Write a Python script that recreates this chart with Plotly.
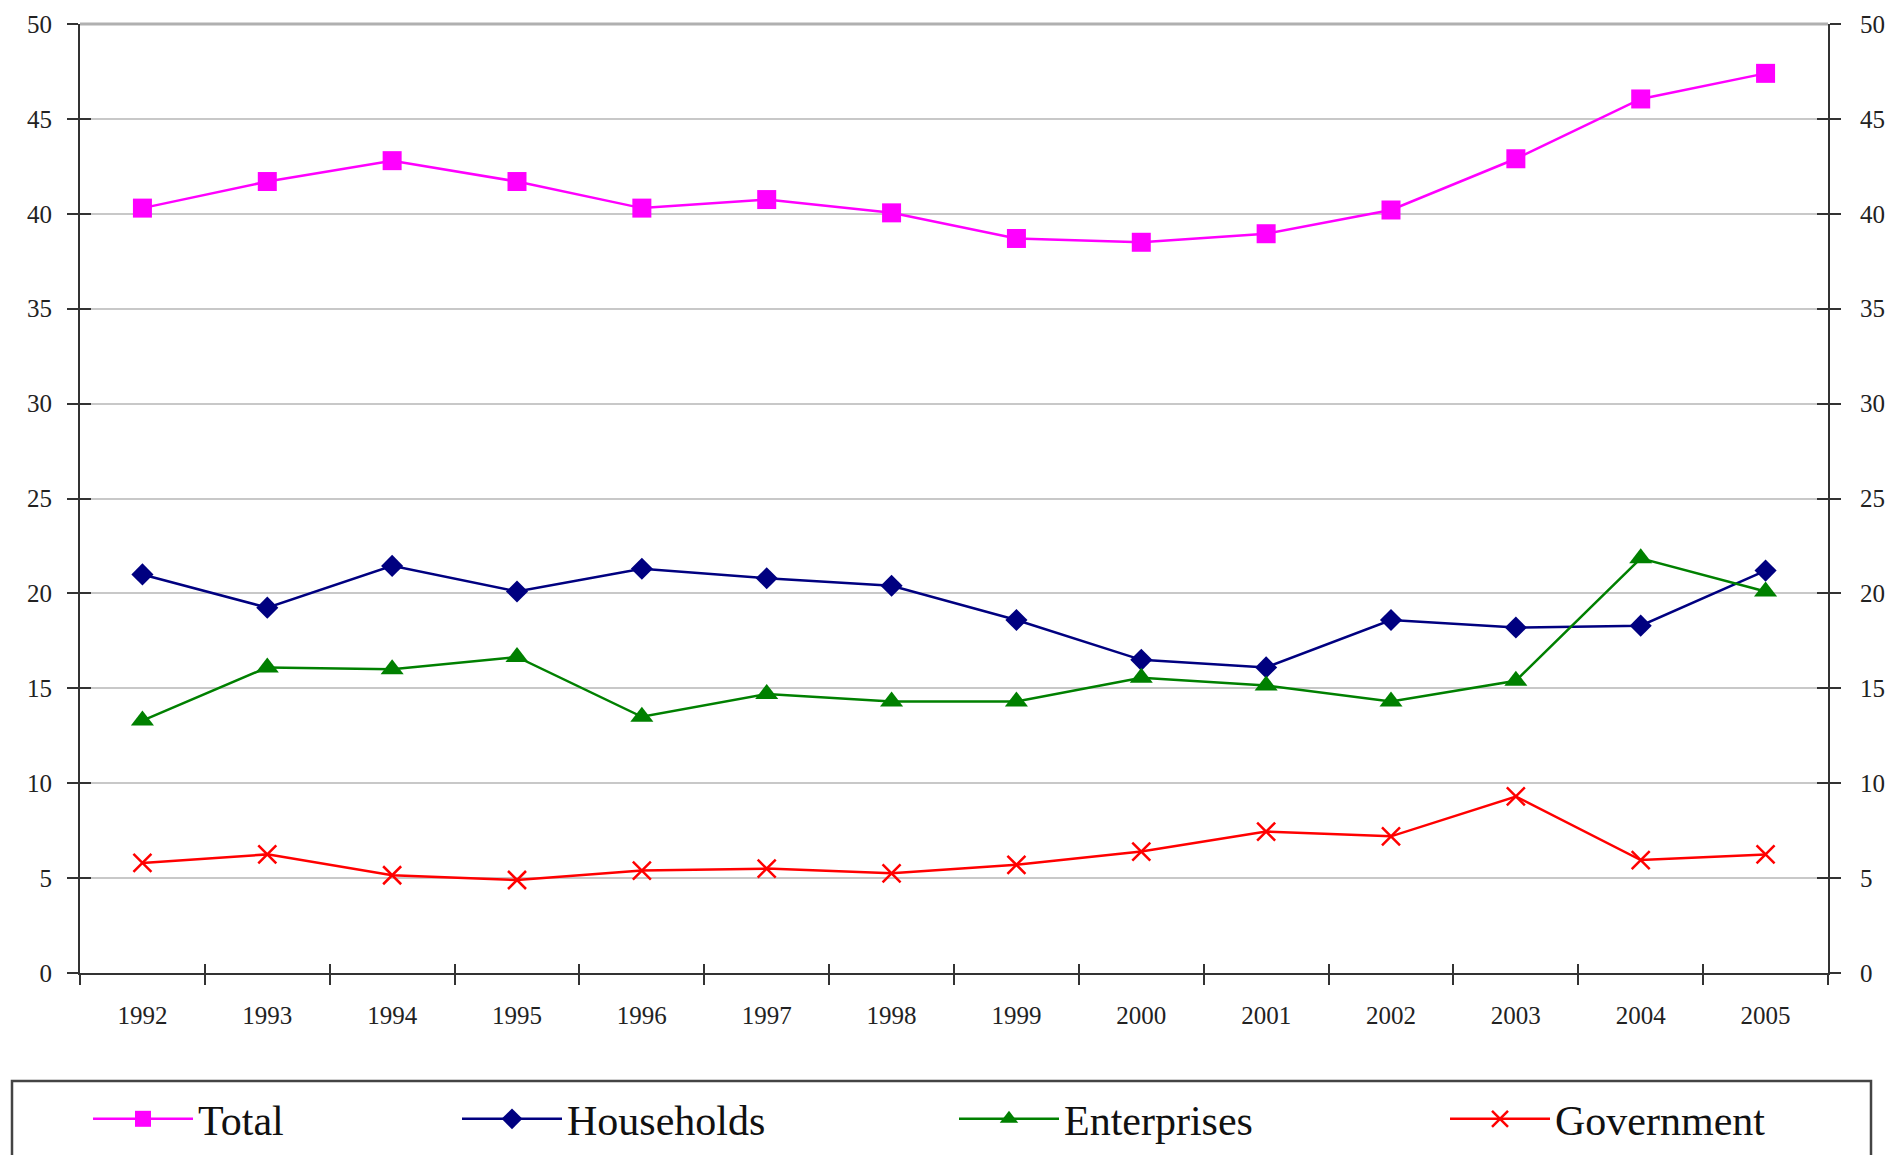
import plotly.graph_objects as go
import numpy as np

years = ["1992", "1993", "1994", "1995", "1996", "1997", "1998",
         "1999", "2000", "2001", "2002", "2003", "2004", "2005"]
total = [40.3, 41.7, 42.8, 41.7, 40.3, 40.75, 40.05, 38.7, 38.5, 38.95, 40.2, 42.9, 46.05, 47.4]
households = [21.0, 19.25, 21.45, 20.1, 21.3, 20.8, 20.4, 18.6, 16.5, 16.1, 18.6, 18.2, 18.3, 21.2]
enterprises = [13.3, 16.1, 16.0, 16.65, 13.5, 14.7, 14.3, 14.3, 15.55, 15.15, 14.3, 15.4, 21.85, 20.1]
government = [5.8, 6.25, 5.15, 4.9, 5.4, 5.5, 5.25, 5.7, 6.4, 7.45, 7.2, 9.3, 5.95, 6.25]

y_ticks = [0, 5, 10, 15, 20, 25, 30, 35, 40, 45, 50]

FONT = "Liberation Serif"
W, H = 1898, 1155
ml, mr, mt, mb = 80, 70, 24, 182
PW, PH = W - ml - mr, H - mt - mb

def px_x(p):
    return (p - ml) / PW

def px_y(p):
    return (H - mb - p) / PH

fig = go.Figure()

series = [
    ("Total", total, "#FF00FF", "square", 19, 94),
    ("Households", households, "#000080", "diamond", 17, 463),
    ("Enterprises", enterprises, "#008000", "triangle-up", 20, 960),
    ("Government", government, "#FF0000", "x-thin", 18, 1451),
]
legends = {}
for i, (name, vals, col, sym, sz, lx) in enumerate(series):
    marker = dict(symbol=sym, size=sz, color=col)
    if sym == "x-thin":
        marker["line"] = dict(color=col, width=2.5)
    lg = "legend" if i == 0 else f"legend{i + 1}"
    fig.add_trace(go.Scatter(
        x=years, y=vals, name=name, mode="lines+markers",
        line=dict(color=col, width=2.5), marker=marker, legend=lg,
    ))
    legends[lg] = dict(
        orientation="h", x=px_x(lx - 6), xanchor="left",
        y=px_y(1085), yanchor="top",
        font=dict(family=FONT, size=42, color="#111111"),
        bgcolor="rgba(0,0,0,0)", borderwidth=0, itemwidth=100,
    )

# empty helper traces so the overlay axes (cross ticks, right axis) render
for xa, ya in [("x", "y2"), ("x2", "y3"), ("x", "y4")]:
    fig.add_trace(go.Scatter(x=[], y=[], xaxis=xa, yaxis=ya, showlegend=False,
                             hoverinfo="skip", mode="lines"))

tickfont = dict(family=FONT, size=25, color="#222222")
axis_line = dict(showline=True, linecolor="#333333", linewidth=2)
n = len(years)
bounds = list(np.arange(n + 1) - 0.5)

fig.update_layout(
    width=W, height=H,
    margin=dict(l=ml, r=mr, t=mt, b=mb, autoexpand=False),
    paper_bgcolor="white", plot_bgcolor="white",
    showlegend=True,
    xaxis=dict(
        type="category", categoryarray=years, range=[-0.5, n - 0.5],
        tickson="boundaries", ticks="outside", ticklen=10, tickwidth=2,
        tickcolor="#333333", showgrid=False, zeroline=False,
        tickfont=tickfont, ticklabelstandoff=19, **axis_line,
    ),
    xaxis2=dict(
        overlaying="x", anchor="y", side="bottom", range=[-0.5, n - 0.5],
        tickmode="array", tickvals=bounds, ticks="inside", ticklen=9,
        tickwidth=2, tickcolor="#333333", showticklabels=False,
        showgrid=False, zeroline=False, showline=False,
    ),
    yaxis=dict(
        range=[0, 50], tickmode="array", tickvals=y_ticks,
        ticks="outside", ticklen=11, tickwidth=2, tickcolor="#333333",
        showgrid=True, gridcolor="#C8C8C8", gridwidth=1.5, zeroline=False,
        tickfont=tickfont, ticklabelstandoff=10, **axis_line,
    ),
    yaxis3=dict(
        overlaying="y", side="left", anchor="x", range=[0, 50],
        tickmode="array", tickvals=y_ticks, ticks="inside", ticklen=11,
        tickwidth=2, tickcolor="#333333", showticklabels=False,
        showgrid=False, zeroline=False, showline=False,
    ),
    yaxis2=dict(
        overlaying="y", side="right", anchor="x", range=[0, 50],
        tickmode="array", tickvals=y_ticks, ticks="outside", ticklen=11,
        tickwidth=2, tickcolor="#333333", showgrid=False, zeroline=False,
        tickfont=tickfont, ticklabelstandoff=14, **axis_line,
    ),
    yaxis4=dict(
        overlaying="y", side="right", anchor="x", range=[0, 50],
        tickmode="array", tickvals=y_ticks, ticks="inside", ticklen=11,
        tickwidth=2, tickcolor="#333333", showticklabels=False,
        showgrid=False, zeroline=False, showline=False,
    ),
    shapes=[
        dict(type="line", xref="paper", yref="paper", x0=0, x1=1,
             y0=1, y1=1, line=dict(color="#B0B0B0", width=3)),
        dict(type="rect", xref="paper", yref="paper",
             x0=px_x(12), x1=px_x(1871), y0=px_y(1081), y1=px_y(1200),
             line=dict(color="#444444", width=2.5), fillcolor="rgba(0,0,0,0)"),
    ],
    **legends,
)

fig.write_html("out.html")
